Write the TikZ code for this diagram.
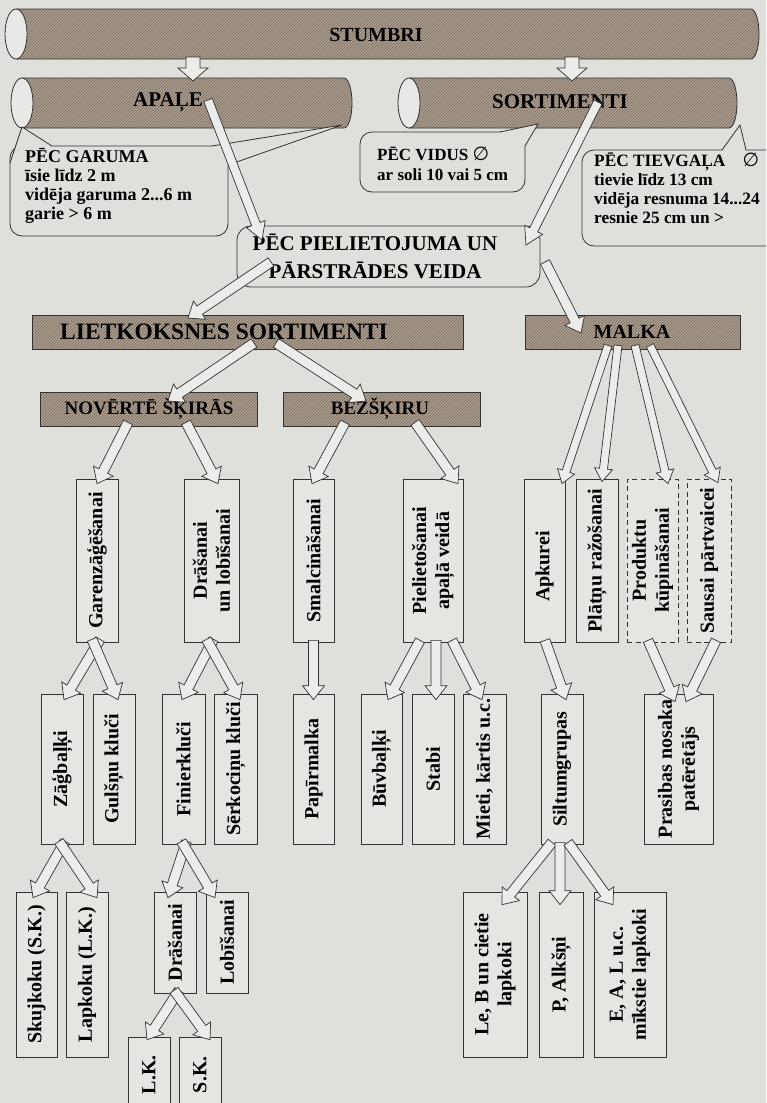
\documentclass[tikz,border=0pt]{standalone}
\usepackage{fontspec}
\setmainfont{Liberation Serif}
\newfontfamily\symfont{DejaVu Sans}
\usetikzlibrary{calc,patterns}
\definecolor{bg}{RGB}{223,223,219}
\definecolor{boxfill}{RGB}{172,158,143}
\definecolor{hatchc}{RGB}{124,110,96}
\definecolor{capfill}{RGB}{232,232,230}
\definecolor{ink}{RGB}{50,50,50}
\definecolor{afill}{RGB}{236,236,234}
\definecolor{vfill}{RGB}{229,229,226}
\newcommand\fs[1]{\fontsize{#1}{23}\selectfont\bfseries}
\tikzset{
 cylbody/.style={draw=ink, line width=0.8pt, preaction={fill=boxfill}, pattern=north east lines, pattern color=hatchc},
 cylcap/.style={draw=ink, line width=0.8pt, fill=capfill},
 hbox/.style={draw=ink, line width=0.8pt, preaction={fill=boxfill}, pattern=north east lines, pattern color=hatchc, inner sep=0pt},
 vbox/.style={draw=ink, line width=0.7pt, fill=vfill, inner sep=0pt},
 dbox/.style={vbox, dash pattern=on 5pt off 3.5pt},
 bubble/.style={draw=ink, line width=0.8pt, fill=bg, inner sep=0pt},
 ht/.style={font=\fs{20}, inner sep=0pt},
 vt/.style={rotate=90, font=\fs{20}, align=center, inner sep=0pt},
 bt/.style={anchor=north west, align=left, inner sep=0pt, font=\fontsize{18}{19}\selectfont\bfseries},
 arrowst/.style={draw=ink, fill=afill, line width=0.7pt, line join=miter},
}
\newcommand\cyl[4]{%
 \path[cylbody] (#1,#3) -- (#2,#3) arc[start angle=-90,end angle=90,x radius=8,y radius={(#4-#3)/2}] -- (#1,#4) -- cycle;
 \draw[cylcap] (#1,{(#3+#4)/2}) ellipse[x radius=11,y radius={(#4-#3)/2}];}
\newcommand\tail[4]{\fill[bg] (#1) -- (#2) -- (#3) -- (#4) -- cycle;
 \draw[ink, line width=0.8pt, line join=miter] (#1) -- (#2) -- (#3);}
\newcommand\barrow[5]{%
 \coordinate (hA) at ($(#2)!#5!(#1)$);
 \path[arrowst] ($(#1)!#3!90:(#2)$) -- ($(hA)!#3!90:(#2)$) -- ($(hA)!#4!90:(#2)$) -- (#2)
  -- ($(hA)!#4!-90:(#2)$) -- ($(hA)!#3!-90:(#2)$) -- ($(#1)!#3!-90:(#2)$) -- cycle;}
\newcommand\Abig[2]{\coordinate (aS) at (#1);\coordinate (aE) at (#2);\barrow{aS}{aE}{7pt}{15pt}{13pt}}
\newcommand\Along[2]{\coordinate (aS) at (#1);\coordinate (aE) at (#2);\barrow{aS}{aE}{4.5pt}{10pt}{17pt}}
\newcommand\Amed[2]{\coordinate (aS) at (#1);\coordinate (aE) at (#2);\barrow{aS}{aE}{5pt}{11pt}{14pt}}
\newcommand\Athin[2]{\coordinate (aS) at (#1);\coordinate (aE) at (#2);\barrow{aS}{aE}{4pt}{9pt}{13pt}}
\begin{document}
\begin{tikzpicture}[x=1pt,y=-1pt]
\useasboundingbox (0,0) rectangle (766,1103);
\clip (0,0) rectangle (766,1103);
\fill[bg] (0,0) rectangle (766,1103);
% cylinders
\cyl{16}{751}{9}{59}
\node[ht, font=\fs{20}] (stumbri) at (376,35) {STUMBRI};
\cyl{22}{344}{78}{128}
\node[ht, font=\fs{21}] (apale) at (168,102) {APAĻE};
\cyl{409}{729}{78}{128}
\node[ht, font=\fs{21}] (sortim) at (560,102) {SORTIMENTI};
% bubbles
\node[bubble, rounded corners=12pt, minimum width=218pt, minimum height=90pt] (garuma) at (119,191) {};
\tail{10,163}{22,127}{52,146}{24,160}
\tail{212,146}{342,125}{228,165}{214,162}
\node[bt] (garuma-t) at (25,148) {PĒC GARUMA\\īsie līdz 2 m\\vidēja garuma 2...6 m\\garie > 6 m};
\node[bubble, rounded corners=12pt, minimum width=165pt, minimum height=60pt] (vidus) at (442.5,162) {};
\tail{500,132}{538,124}{525,146}{512,142}
\node[bt, font=\fontsize{17}{20}\selectfont\bfseries] (vidus-t) at (377,147) {PĒC VIDUS {\symfont\mdseries\fontsize{19}{20}\selectfont ∅}\\ar soli 10 vai 5 cm};
\node[bubble, rounded corners=12pt, minimum width=218pt, minimum height=96pt] (tievg) at (691,198) {};
\tail{722,150}{740,125}{746,150}{734,158}
\node[bt, font=\fontsize{17.3}{19}\selectfont\bfseries] (tievg-t) at (594,153) {PĒC TIEVGAĻA\quad{\symfont\mdseries\fontsize{19}{19}\selectfont ∅}\\tievie līdz 13 cm\\vidēja resnuma 14...24\\resnie 25 cm un >};
\node[bubble, rounded corners=14pt, minimum width=303pt, minimum height=61pt] (piel) at (388.5,256.5) {};
\node[align=center, inner sep=0pt, font=\fontsize{21}{28}\selectfont\bfseries] (piel-t) at (375,256) {PĒC PIELIETOJUMA UN\\PĀRSTRĀDES VEIDA};
% arrows top
\Abig{$(stumbri)+(-183,22)$}{$(apale)+(25,-21)$}
\Abig{$(stumbri)+(196,22)$}{$(sortim)+(12,-21)$}
\Along{$(apale)+(40,-2)$}{$(piel)+(-126.5,-16.5)$}
\Along{$(sortim)+(38,0)$}{$(piel)+(137.5,-11.5)$}
% horizontal boxes
\node[hbox, minimum width=431pt, minimum height=34pt] (lietk) at (247.5,332) {};
\node[ht, font=\fs{23.5}] (lietk-t) at (224,332) {LIETKOKSNES SORTIMENTI};
\node[hbox, minimum width=215pt, minimum height=34pt] (malka) at (632.5,332) {};
\node[ht] (malka-t) at (632,332) {MALKA};
\node[hbox, minimum width=217pt, minimum height=34pt] (noverte) at (148.5,409) {};
\node[ht, font=\fs{19}] (noverte-t) at (149,409) {NOVĒRTĒ ŠĶIRĀS};
\node[hbox, minimum width=197pt, minimum height=34pt] (bezsk) at (381.5,409) {};
\node[ht, font=\fs{19}] (bezsk-t) at (380,409) {BEZŠĶIRU};
% row 1
\node[vbox, minimum width=42pt, minimum height=163pt] (garen) at (97,560.5) {};
\node[vt] (garen-t) at (garen.center) {Garenzāģēšanai};
\node[vbox, minimum width=55pt, minimum height=163pt] (drasl) at (211.5,560.5) {};
\node[vt] (drasl-t) at (drasl.center) {Drāšanai\\un lobīšanai};
\node[vbox, minimum width=41pt, minimum height=163pt] (smalc) at (313.5,560.5) {};
\node[vt] (smalc-t) at (smalc.center) {Smalcināšanai};
\node[vbox, minimum width=60pt, minimum height=163pt] (pielap) at (433,560.5) {};
\node[vt] (pielap-t) at (pielap.center) {Pielietošanai\\apaļā veidā};
\node[vbox, minimum width=41pt, minimum height=163pt] (apk) at (544.5,560.5) {};
\node[vt] (apk-t) at ($(apk.center)+(0,6)$) {Apkurei};
\node[vbox, minimum width=42pt, minimum height=163pt] (platnu) at (597,560.5) {};
\node[vt] (platnu-t) at (platnu.center) {Plātņu ražošanai};
\node[dbox, minimum width=51pt, minimum height=163pt] (prod) at (652.5,560.5) {};
\node[vt] (prod-t) at (prod.center) {Produktu\\kūpināšanai};
\node[dbox, minimum width=44pt, minimum height=163pt] (saus) at (709,560.5) {};
\node[vt] (saus-t) at (saus.center) {Sausai pārtvaicei};
% row 2
\node[vbox, minimum width=42pt, minimum height=150pt] (zagb) at (62,769) {};
\node[vt] (zagb-t) at (zagb.center) {Zāģbaļķi};
\node[vbox, minimum width=42pt, minimum height=150pt] (guls) at (114,769) {};
\node[vt] (guls-t) at (guls.center) {Gulšņu kluči};
\node[vbox, minimum width=43pt, minimum height=150pt] (finier) at (183.5,769) {};
\node[vt] (finier-t) at (finier.center) {Finierkluči};
\node[vbox, minimum width=43pt, minimum height=150pt] (serk) at (235.5,769) {};
\node[vt] (serk-t) at (serk.center) {Sērkociņu kluči};
\node[vbox, minimum width=41pt, minimum height=150pt] (papir) at (313.5,769) {};
\node[vt] (papir-t) at (papir.center) {Papīrmalka};
\node[vbox, minimum width=41pt, minimum height=150pt] (buvb) at (381.5,769) {};
\node[vt] (buvb-t) at (buvb.center) {Būvbaļķi};
\node[vbox, minimum width=42pt, minimum height=150pt] (stabi) at (433,769) {};
\node[vt] (stabi-t) at (stabi.center) {Stabi};
\node[vbox, minimum width=43pt, minimum height=150pt] (mieti) at (484.5,769) {};
\node[vt] (mieti-t) at (mieti.center) {Mieti, kārtis u.c.};
\node[vbox, minimum width=42pt, minimum height=150pt] (siltum) at (562,769) {};
\node[vt] (siltum-t) at (siltum.center) {Siltumgrupas};
\node[vbox, minimum width=69pt, minimum height=150pt] (prasib) at (678.5,769) {};
\node[vt] (prasib-t) at (prasib.center) {Prasibas nosaka\\patērētājs};
% row 3
\node[vbox, minimum width=41pt, minimum height=165pt] (skuj) at (36.5,974.5) {};
\node[vt] (skuj-t) at (skuj.center) {Skujkoku (S.K.)};
\node[vbox, minimum width=42pt, minimum height=165pt] (lapk) at (87,974.5) {};
\node[vt] (lapk-t) at (lapk.center) {Lapkoku (L.K.)};
\node[vbox, minimum width=42pt, minimum height=101pt] (dras) at (175,942.5) {};
\node[vt] (dras-t) at (dras.center) {Drāšanai};
\node[vbox, minimum width=42pt, minimum height=101pt] (lobis) at (227,942.5) {};
\node[vt] (lobis-t) at (lobis.center) {Lobīšanai};
\node[vbox, minimum width=64pt, minimum height=165pt] (leb) at (495,974.5) {};
\node[vt] (leb-t) at (leb.center) {Le, B un cietie\\lapkoki};
\node[vbox, minimum width=44pt, minimum height=165pt] (palk) at (561,974.5) {};
\node[vt] (palk-t) at (palk.center) {P, Alkšņi};
\node[vbox, minimum width=72pt, minimum height=165pt] (eal) at (630,974.5) {};
\node[vt] (eal-t) at (eal.center) {E, A, L u.c.\\mīkstie lapkoki};
% row 4
\node[vbox, minimum width=42pt, minimum height=83pt] (lk) at (149,1078.5) {};
\node[vt] (lk-t) at ($(lk.north)+(0,38)$) {L.K.};
\node[vbox, minimum width=42pt, minimum height=83pt] (sk) at (200,1078.5) {};
\node[vt] (sk-t) at ($(sk.north)+(0,38)$) {S.K.};
% arrows
\Amed{$(piel)+(-117.5,5.5)$}{$(lietk)+(-59.5,-14)$}
\Amed{$(piel)+(156.5,5.5)$}{$(malka)+(-51.5,1)$}
\Amed{$(lietk)+(6.5,11)$}{$(noverte)+(19.5,-8)$}
\Amed{$(lietk)+(28.5,11)$}{$(bezsk)+(-15.5,-8)$}
\Athin{$(malka.south)+(-24.5,-4)$}{$(apk.north)+(17.5,5)$}
\Athin{$(malka.south)+(-14.5,-4)$}{$(platnu.north)+(5,3)$}
\Athin{$(malka.south)+(2.5,-4)$}{$(prod.north)+(15.5,5)$}
\Athin{$(malka.south)+(17.5,-4)$}{$(saus.north)+(9,4)$}
\Amed{$(noverte.south)+(-20.5,-4)$}{$(garen.north)+(0,5)$}
\Amed{$(noverte.south)+(37.5,-4)$}{$(drasl.north)+(6.5,5)$}
\Amed{$(bezsk.south)+(-36.5,-4)$}{$(smalc.north)+(-1.5,5)$}
\Amed{$(bezsk.south)+(33.5,-4)$}{$(pielap.north)+(25,5)$}
\Amed{$(garen.south)+(3,-3)$}{$(zagb.north)+(2,6)$}
\Amed{$(garen.south)+(-5,-3)$}{$(guls.north)+(4,6)$}
\Amed{$(drasl.south)+(2,-3)$}{$(finier.north)+(-1.5,6)$}
\Amed{$(drasl.south)+(-5,-3)$}{$(serk.north)+(4.5,6)$}
\Amed{$(smalc.south)+(0,-2)$}{$(papir.north)+(0,6)$}
\Amed{$(pielap.south)+(-13,-2)$}{$(buvb.north)+(6.5,6)$}
\Amed{$(pielap.south)+(3,-2)$}{$(stabi.north)+(3,6)$}
\Amed{$(pielap.south)+(19,-2)$}{$(mieti.north)+(-2.5,6)$}
\Amed{$(apk.south)+(0.5,-2)$}{$(siltum.north)+(4,6)$}
\Amed{$(prod.south)+(-4.5,-2)$}{$(prasib.north)+(-3.5,8)$}
\Amed{$(saus.south)+(7,-2)$}{$(prasib.north)+(7.5,8)$}
\Amed{$(zagb.south)+(3,-3)$}{$(skuj.north)+(-3.5,6)$}
\Amed{$(zagb.south)+(-3,-3)$}{$(lapk.north)+(10,6)$}
\Amed{$(finier.south)+(3,-3)$}{$(dras.north)+(-7,6)$}
\Amed{$(finier.south)+(-2,-3)$}{$(lobis.north)+(-12,6)$}
\Amed{$(siltum.south)+(-10,-2)$}{$(leb.north)+(7,13)$}
\Amed{$(siltum.south)+(-2,-2)$}{$(palk.north)+(-1,13)$}
\Amed{$(siltum.south)+(6,-2)$}{$(eal.north)+(-17,13)$}
\Amed{$(dras.south)+(4,-3)$}{$(lk.north)+(-2,3)$}
\Amed{$(dras.south)+(-1,-3)$}{$(sk.north)+(10,3)$}
\end{tikzpicture}
\end{document}
